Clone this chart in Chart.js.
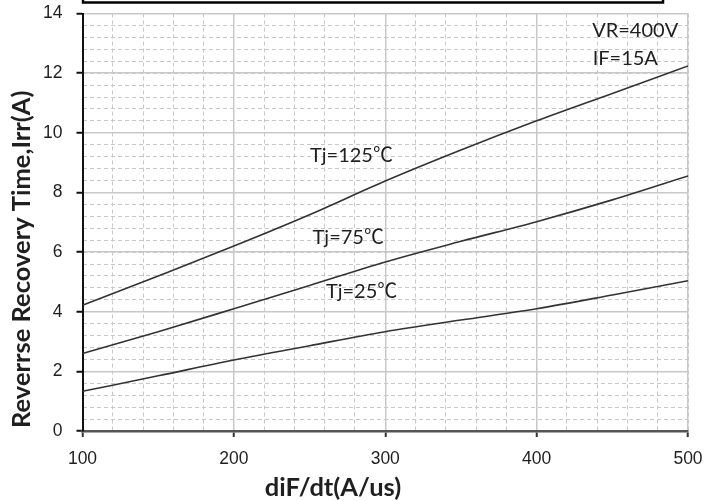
<!DOCTYPE html>
<html>
<head>
<meta charset="utf-8">
<script src="https://cdn.jsdelivr.net/npm/chart.js@4.4.1/dist/chart.umd.min.js"></script>
<style>
  html, body { margin: 0; padding: 0; background: #fff; }
  #wrap { width: 718px; height: 501px; }
</style>
</head>
<body>
<div id="wrap"><canvas id="irrChart" width="718" height="501"></canvas></div>
<script>
// diF/dt (A/us)
const didt = [100, 150, 200, 250, 300, 350, 400, 450, 500];
// Irr (A)
const irr125 = [4.22, 5.2, 6.2, 7.25, 8.38, 9.42, 10.4, 11.32, 12.24];
const irr75 = [2.6, 3.33, 4.1, 4.88, 5.67, 6.36, 7.02, 7.75, 8.55];
const irr25 = [1.33, 1.85, 2.38, 2.86, 3.33, 3.72, 4.1, 4.56, 5.04];

const curveLabels = ["Tj=125℃", "Tj=75℃", "Tj=25℃"];
const labelPos = [[250.3, 9.25], [252, 6.5], [260.8, 4.67]];
const condText = ["VR=400V", "IF=15A"];
const condPos = [[436.7, 13.44], [437, 12.49]];

const xTitle = "diF/dt(A/us)";
const yTitle = "Reverrse Recovery Time,Irr(A)";

const textColor = "#1f1f1f";
const gridColor = "#c8c8c8";

function toPts(ys) {
    return didt.map((x, i) => ({ x: x, y: ys[i] }));
}

function lineSet(label, ys) {
    return {
        label: label,
        data: toPts(ys),
        borderColor: "#333",
        borderWidth: 1.6,
        pointRadius: 0,
        fill: false,
        cubicInterpolationMode: "monotone"
    };
}

// labels, titles and the clipped box at the top
const decor = {
    id: "decor",
    afterDraw(chart) {
        const c = chart.ctx;
        const xs = chart.scales.x, ys = chart.scales.y;
        c.save();
        c.fillStyle = textColor;
        c.textBaseline = "middle";
        c.textAlign = "left";
        c.font = "20px Lato, 'Noto Sans CJK SC'";
        curveLabels.forEach((t, i) => {
            c.fillText(t, xs.getPixelForValue(labelPos[i][0]), ys.getPixelForValue(labelPos[i][1]));
        });
        condText.forEach((t, i) => {
            c.fillText(t, xs.getPixelForValue(condPos[i][0]), ys.getPixelForValue(condPos[i][1]));
        });

        c.font = "bold 25.5px Lato";
        c.textAlign = "center";
        c.fillText(xTitle, 333, 488);
        c.translate(22, 0);
        c.rotate(-Math.PI / 2);
        c.textAlign = "left";
        c.fillText(yTitle, -428, 0);
        c.restore();

        c.save();
        c.strokeStyle = "#000";
        c.lineWidth = 2.5;
        c.strokeRect(83, -20, 580, 22.5);
        c.restore();
    }
};

function noPad(s) {
    s.paddingTop = 0;
    s.paddingBottom = 0;
    s.paddingLeft = 0;
    s.paddingRight = 0;
}

new Chart(document.getElementById("irrChart"), {
    type: "line",
    data: {
        datasets: [
            lineSet("125", irr125),
            lineSet("75", irr75),
            lineSet("25", irr25)
        ]
    },
    options: {
        responsive: false,
        animation: false,
        layout: { padding: { left: 0, top: 13.5, right: 30, bottom: 0 } },
        plugins: {
            legend: { display: false },
            tooltip: { enabled: false }
        },
        scales: {
            x2: {
                type: "linear",
                position: "bottom",
                min: 100, max: 500,
                ticks: { display: false, stepSize: 20 },
                grid: { color: gridColor, lineWidth: 1, drawTicks: false },
                border: { display: false, dash: [4, 3] },
                afterFit(s) { s.height = 0; noPad(s); }
            },
            x: {
                type: "linear",
                position: "bottom",
                min: 100, max: 500,
                ticks: {
                    stepSize: 100,
                    color: textColor,
                    padding: 12,
                    font: { family: "'Liberation Sans', Arial", size: 17.5 }
                },
                grid: { color: gridColor, lineWidth: 1.5, tickLength: 6, tickColor: "#333", tickWidth: 2 },
                border: { color: "#555", width: 2.5 },
                afterFit(s) { s.height = 70; noPad(s); }
            },
            y2: {
                type: "linear",
                position: "left",
                min: 0, max: 14,
                ticks: { display: false, stepSize: 0.4 },
                grid: { color: gridColor, lineWidth: 1, drawTicks: false },
                border: { display: false, dash: [4, 3] },
                afterFit(s) { s.width = 0; noPad(s); }
            },
            y: {
                type: "linear",
                position: "left",
                min: 0, max: 14,
                ticks: {
                    stepSize: 2,
                    color: textColor,
                    padding: 14,
                    font: { family: "'Liberation Sans', Arial", size: 17.5 }
                },
                grid: { color: gridColor, lineWidth: 1.5, tickLength: 6, tickColor: "#111", tickWidth: 2 },
                border: { color: "#111", width: 2 },
                afterFit(s) { s.width = 82.5; noPad(s); }
            }
        }
    },
    plugins: [decor]
});
</script>
</body>
</html>
